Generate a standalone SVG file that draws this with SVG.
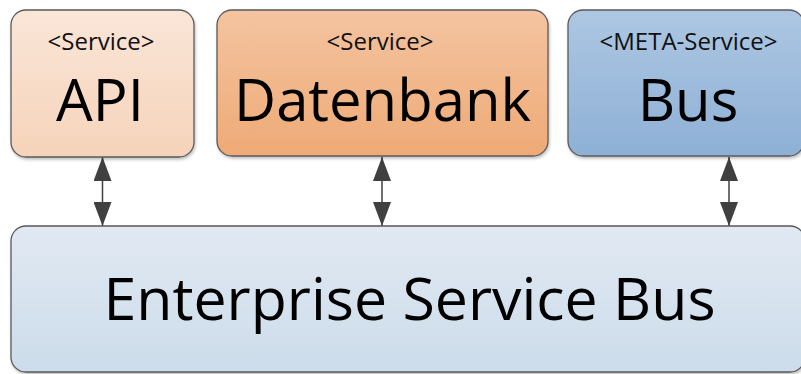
<svg xmlns="http://www.w3.org/2000/svg" width="801" height="374" viewBox="0 0 801 374">
<defs>
<linearGradient id="gApi" x1="0" y1="0" x2="0" y2="1"><stop offset="0" stop-color="#fae6d8"/><stop offset="1" stop-color="#f6d3ba"/></linearGradient>
<linearGradient id="gDb" x1="0" y1="0" x2="0" y2="1"><stop offset="0" stop-color="#f4c4a0"/><stop offset="1" stop-color="#eeaa76"/></linearGradient>
<linearGradient id="gBus" x1="0" y1="0" x2="0" y2="1"><stop offset="0" stop-color="#adc7e2"/><stop offset="1" stop-color="#8eb0d6"/></linearGradient>
<linearGradient id="gEsb" x1="0" y1="0" x2="0" y2="1"><stop offset="0" stop-color="#e1e9f3"/><stop offset="1" stop-color="#ccdcea"/></linearGradient>
<filter id="sh" x="-5%" y="-5%" width="110%" height="115%"><feDropShadow dx="1" dy="2" stdDeviation="1.5" flood-color="#000" flood-opacity="0.25"/></filter>
<marker id="ah" viewBox="0 0 24 18" refX="24" refY="9" markerWidth="24" markerHeight="18" markerUnits="userSpaceOnUse" orient="auto-start-reverse"><path d="M0,0 L24,9 L0,18 Z" fill="#404040"/></marker>
</defs>
<style>
.box{stroke:#5a5a5a;stroke-width:1.3;filter:url(#sh)}
.small{font-family:"Open Sans",sans-serif;font-size:24px;fill:#111;text-anchor:middle}
.big{font-family:"Open Sans",sans-serif;font-size:58px;fill:#000;text-anchor:middle}
.conn{stroke:#404040;stroke-width:1.5;fill:none}
</style>
<g id="connectors">
<line class="conn" x1="102.5" y1="157" x2="102.5" y2="226" marker-start="url(#ah)" marker-end="url(#ah)"/>
<line class="conn" x1="382" y1="157" x2="382" y2="226" marker-start="url(#ah)" marker-end="url(#ah)"/>
<line class="conn" x1="729" y1="157" x2="729" y2="226" marker-start="url(#ah)" marker-end="url(#ah)"/>
</g>
<g id="api">
<rect class="box" x="11" y="10" width="183" height="147" rx="15" fill="url(#gApi)"/>
<text class="small" x="101" y="50">&lt;Service&gt;</text>
<text class="big" x="100" y="121">API</text>
</g>
<g id="datenbank">
<rect class="box" x="217" y="10" width="331" height="146" rx="15" fill="url(#gDb)"/>
<text class="small" x="380" y="50">&lt;Service&gt;</text>
<text class="big" x="382.5" y="121">Datenbank</text>
</g>
<g id="bus">
<rect class="box" x="568" y="10" width="236" height="146" rx="15" fill="url(#gBus)"/>
<text class="small" x="688.5" y="50">&lt;META-Service&gt;</text>
<text class="big" x="688" y="121">Bus</text>
</g>
<g id="esb">
<rect class="box" x="11" y="226" width="794" height="146" rx="15" fill="url(#gEsb)"/>
<text class="big" x="409.5" y="320" style="font-size:59px">Enterprise Service Bus</text>
</g>
</svg>
